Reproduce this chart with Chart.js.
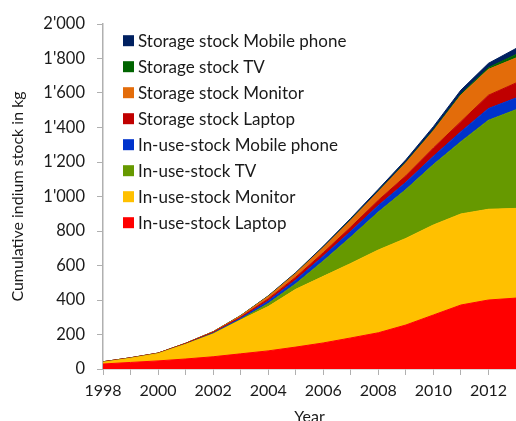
<!DOCTYPE html>
<html>
<head>
<meta charset="utf-8">
<script src="https://cdn.jsdelivr.net/npm/chart.js@4.4.1/dist/chart.umd.min.js"></script>
<style>
  html, body { margin: 0; padding: 0; background: #fff; overflow: hidden; }
  #wrap { width: 516px; height: 428px; position: relative; }
</style>
</head>
<body>
<div id="wrap"><canvas id="chart"></canvas></div>
<script>
// Cumulative indium stock (kg) by year, per device and stock type
const years = [1998, 1999, 2000, 2001, 2002, 2003, 2004, 2005, 2006, 2007, 2008, 2009, 2010, 2011, 2012, 2013];

const inUseLaptop   = [29, 38, 47, 58, 71, 88, 105, 127, 151, 180, 210, 255, 313, 371, 400, 411];
const inUseMonitor  = [10, 24, 42, 85, 132, 196, 257, 335, 386, 432, 480, 502, 522, 528, 526, 520];
const inUseTV       = [0, 0, 0, 0, 2, 3, 17, 32, 89, 153, 220, 283, 350, 419, 516, 572];
const inUseMobile   = [0, 0, 0, 1, 3, 7, 15, 22, 28, 33, 38, 42, 48, 58, 68, 68];
const storageLaptop  = [3, 3, 3, 4, 5, 7, 12, 16, 20, 25, 30, 38, 48, 58, 77, 87];
const storageMonitor = [0, 0, 0, 1, 3, 8, 15, 22, 30, 40, 50, 75, 100, 154, 150, 145];
const storageTV      = [0, 0, 0, 0, 0, 0, 1, 1, 1, 2, 2, 3, 4, 6, 10, 20];
const storageMobile  = [0, 0, 0, 0, 0, 1, 2, 4, 7, 9, 12, 15, 20, 23, 25, 35];

const yTickValues = [0, 200, 400, 600, 800, 1000, 1200, 1400, 1600, 1800, 2000];

const FONT = 'Lato, "Liberation Sans", sans-serif';
const TEXT = '#1a1a1a';
const AXIS = '#b0b0b0';

// thousands separator as an apostrophe: 1'800
function fmt(v) {
  return String(v).replace(/\B(?=(\d{3})+(?!\d))/g, "'");
}

function series(label, data, color, fill) {
  return {
    label, data,
    backgroundColor: color,
    borderColor: color,
    borderWidth: 1,
    pointRadius: 0,
    pointHoverRadius: 0,
    tension: 0,
    fill
  };
}

const datasets = [
  series('In-use-stock Laptop', inUseLaptop, '#ff0000', 'origin'),
  series('In-use-stock Monitor', inUseMonitor, '#ffc000', '-1'),
  series('In-use-stock TV', inUseTV, '#669900', '-1'),
  series('In-use-stock Mobile phone', inUseMobile, '#0033cc', '-1'),
  series('Storage stock Laptop', storageLaptop, '#c00000', '-1'),
  series('Storage stock Monitor', storageMonitor, '#e36c0a', '-1'),
  series('Storage stock TV', storageTV, '#006400', '-1'),
  series('Storage stock Mobile phone', storageMobile, '#002060', '-1')
];

// Legend drawn inside the plot, top stack first
const insideLegend = {
  id: 'insideLegend',
  afterDraw(chart) {
    const ctx = chart.ctx;
    const items = chart.data.datasets.slice().reverse();
    ctx.save();
    ctx.font = '17px ' + FONT;
    ctx.textBaseline = 'middle';
    ctx.textAlign = 'left';
    items.forEach((ds, i) => {
      const cy = 40.7 + i * 26;
      ctx.fillStyle = ds.backgroundColor;
      ctx.fillRect(123, cy - 5.5, 11, 11);
      ctx.fillStyle = TEXT;
      ctx.fillText(ds.label, 138, cy + 0.5);
    });
    ctx.restore();
  }
};

new Chart(document.getElementById('chart'), {
  type: 'line',
  data: { labels: years.map(String), datasets },
  options: {
    responsive: true,
    maintainAspectRatio: false,
    animation: false,
    events: [],
    layout: { padding: { top: 24, right: 0, bottom: 0, left: 0 } },
    plugins: { legend: { display: false }, tooltip: { enabled: false } },
    scales: {
      x: {
        type: 'category',
        offset: false,
        grid: { drawOnChartArea: false, color: AXIS, tickLength: 6, lineWidth: 1 },
        border: { color: AXIS, width: 1.5 },
        ticks: {
          autoSkip: false, maxRotation: 0, color: TEXT, padding: 6,
          font: { family: FONT, size: 16 },
          callback: (v, i) => (years[i] % 2 === 0 ? String(years[i]) : '')
        },
        title: { display: true, text: 'Year', color: TEXT, font: { family: FONT, size: 16 }, padding: { top: 0, bottom: 2 } },
        afterFit(scale) { scale.height = 59; scale.paddingRight = 0; }
      },
      y: {
        stacked: true,
        min: 0, max: 2000,
        afterBuildTicks(scale) { scale.ticks = yTickValues.map(v => ({ value: v })); },
        grid: { drawOnChartArea: false, color: AXIS, tickLength: 6, lineWidth: 1 },
        border: { color: AXIS, width: 1.5 },
        ticks: {
          color: TEXT, padding: 12,
          font: { family: FONT, size: 16.5 },
          callback: v => fmt(v)
        },
        title: { display: true, text: 'Cumulative indium stock in kg', color: TEXT, font: { family: FONT, size: 16 }, padding: { top: 8, bottom: 0 } },
        afterFit(scale) { scale.width = 103; }
      }
    }
  },
  plugins: [insideLegend]
});
</script>
</body>
</html>
